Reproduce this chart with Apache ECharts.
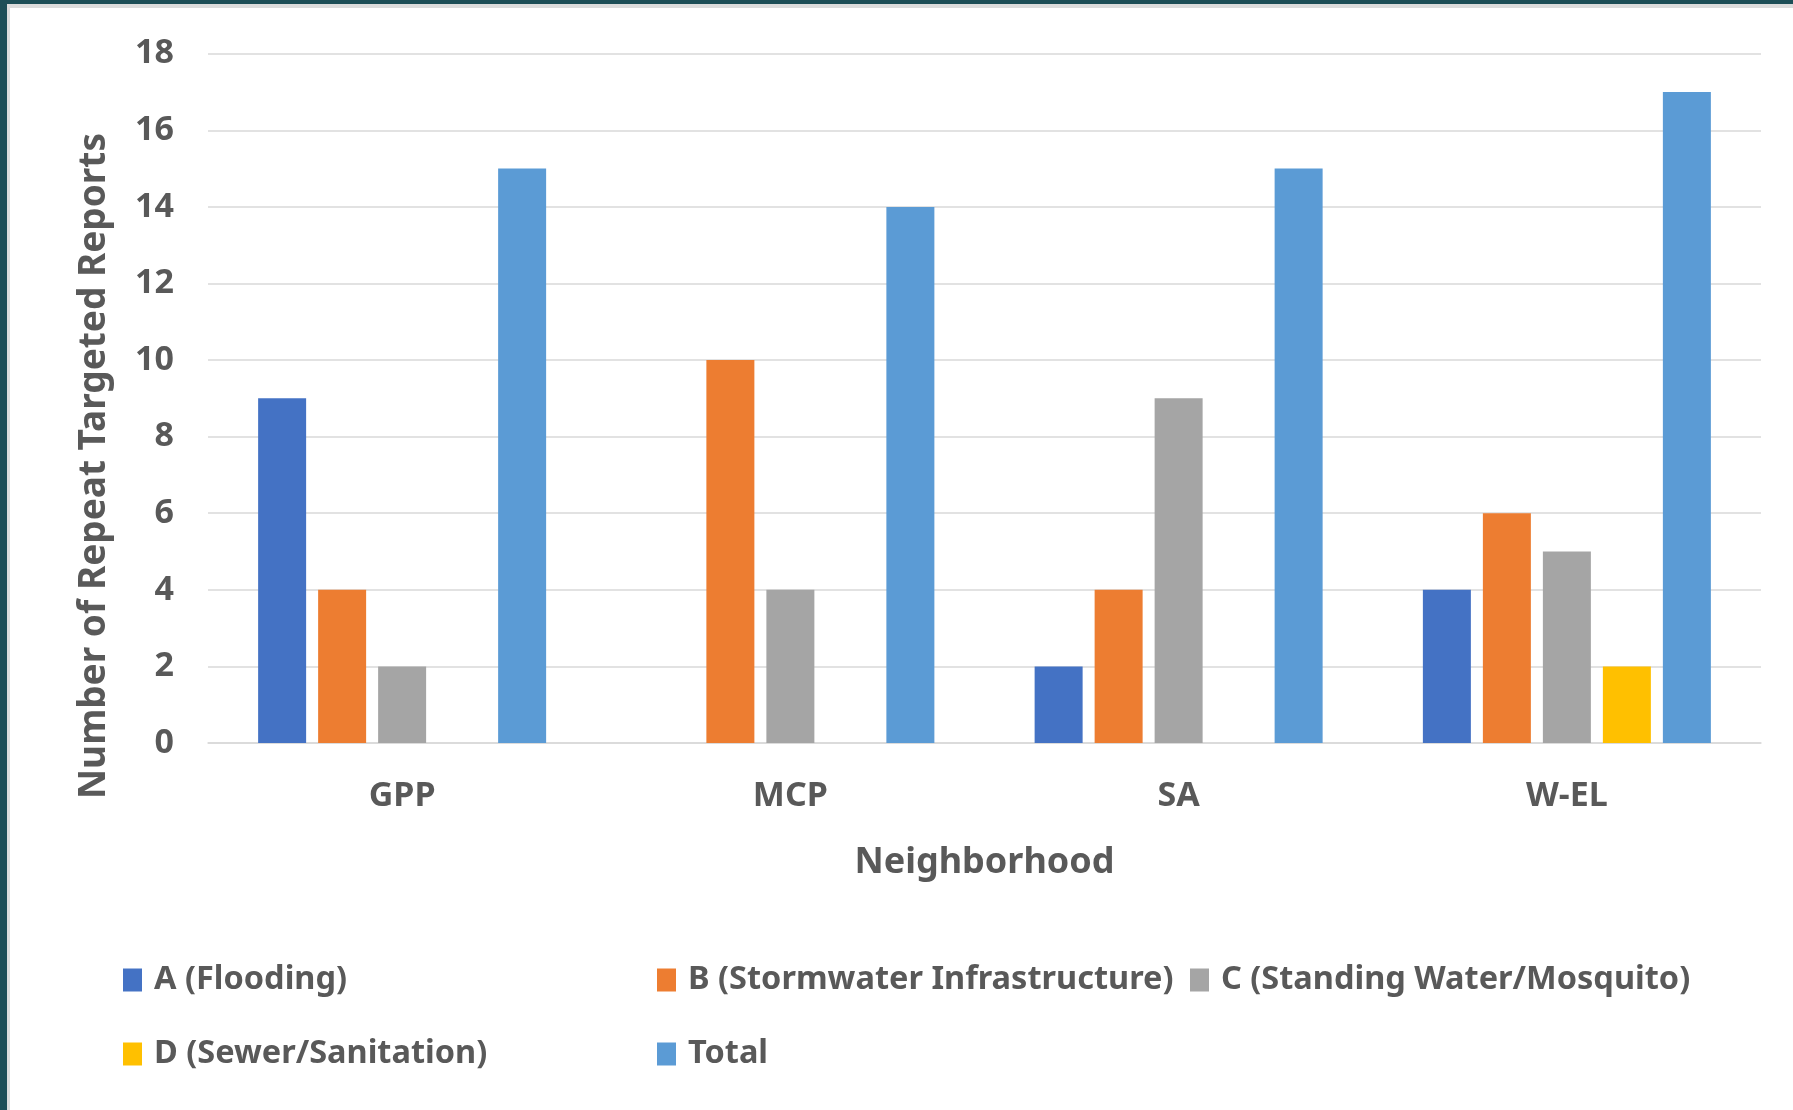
<!DOCTYPE html>
<html>
<head>
<meta charset="utf-8">
<script src="https://cdn.jsdelivr.net/npm/echarts@6/dist/echarts.min.js"></script>
<style>
html,body{margin:0;padding:0;background:#fff;}
#chart{position:absolute;left:0;top:0;width:1793px;height:1110px;}
.b{position:absolute;pointer-events:none;}
</style>
</head>
<body>
<div id="chart"></div>
<div class="b" style="left:0;top:0;width:1793px;height:4px;background:#1d4e57;"></div>
<div class="b" style="left:7px;top:4px;width:1786px;height:4px;background:#dcdcdc;"></div>
<div class="b" style="left:0;top:0;width:7px;height:1110px;background:#1d4e57;"></div>
<div class="b" style="left:7px;top:4px;width:3px;height:1106px;background:#dcdcdc;"></div>
<script>
const categories = ['GPP', 'MCP', 'SA', 'W-EL'];
const seriesNames = ['A (Flooding)', 'B (Stormwater Infrastructure)', 'C (Standing Water/Mosquito)', 'D (Sewer/Sanitation)', 'Total'];
const valuesA = [9, 0, 2, 4];
const valuesB = [4, 10, 4, 6];
const valuesC = [2, 4, 9, 5];
const valuesD = [0, 0, 0, 2];
const valuesTotal = [15, 14, 15, 17];
const yTicks = [0, 2, 4, 6, 8, 10, 12, 14, 16, 18];

const colors = ['#4472C4', '#ED7D31', '#A5A5A5', '#FFC000', '#5B9BD5'];
const allValues = [valuesA, valuesB, valuesC, valuesD, valuesTotal];
const FONT = 'Noto Sans';
const TXT = '#595959';

const chart = echarts.init(document.getElementById('chart'), null, {renderer: 'canvas'});

const legendText = {color: TXT, fontFamily: FONT, fontWeight: 'bold', fontSize: 32.5, lineHeight: 36, padding: [0, 0, 0, 7]};
const legendBase = {orient: 'vertical', icon: 'rect', padding: 0, itemWidth: 19, itemHeight: 23, itemGap: 38, top: 962, textStyle: legendText, selectedMode: false};

chart.setOption({
  animation: false,
  backgroundColor: '#ffffff',
  color: colors,
  grid: {left: 208, right: 32, top: 53.7, bottom: 367, outerBoundsMode: 'none', containLabel: false},
  xAxis: {
    type: 'category',
    data: categories,
    axisTick: {show: false},
    axisLine: {lineStyle: {color: '#D9D9D9', width: 1.5}},
    axisLabel: {color: TXT, fontFamily: FONT, fontWeight: 'bold', fontSize: 34, margin: 36},
    name: 'Neighborhood',
    nameLocation: 'middle',
    nameGap: 102,
    nameTextStyle: {color: TXT, fontFamily: FONT, fontWeight: 'bold', fontSize: 36}
  },
  yAxis: {
    type: 'value',
    min: yTicks[0],
    max: yTicks[yTicks.length - 1],
    interval: yTicks[1] - yTicks[0],
    axisLine: {show: false},
    axisTick: {show: false},
    splitLine: {lineStyle: {color: '#D9D9D9', width: 1.5}},
    axisLabel: {color: TXT, fontFamily: FONT, fontWeight: 'bold', fontSize: 34, margin: 34}
  },
  legend: [
    Object.assign({}, legendBase, {left: 123, data: [seriesNames[0], seriesNames[3]]}),
    Object.assign({}, legendBase, {left: 657, data: [seriesNames[1], seriesNames[4]]}),
    Object.assign({}, legendBase, {left: 1190, data: [seriesNames[2]]})
  ],
  graphic: [{
    type: 'text',
    x: 94,
    y: 466,
    rotation: Math.PI / 2,
    style: {
      text: 'Number of Repeat Targeted Reports',
      fill: TXT,
      font: 'bold 37px "Noto Sans"',
      align: 'center',
      verticalAlign: 'middle'
    }
  }],
  series: seriesNames.map((name, i) => ({
    name: name,
    type: 'bar',
    data: allValues[i],
    barWidth: 48,
    barGap: '25%',
    itemStyle: {color: colors[i]}
  }))
});
</script>
</body>
</html>
